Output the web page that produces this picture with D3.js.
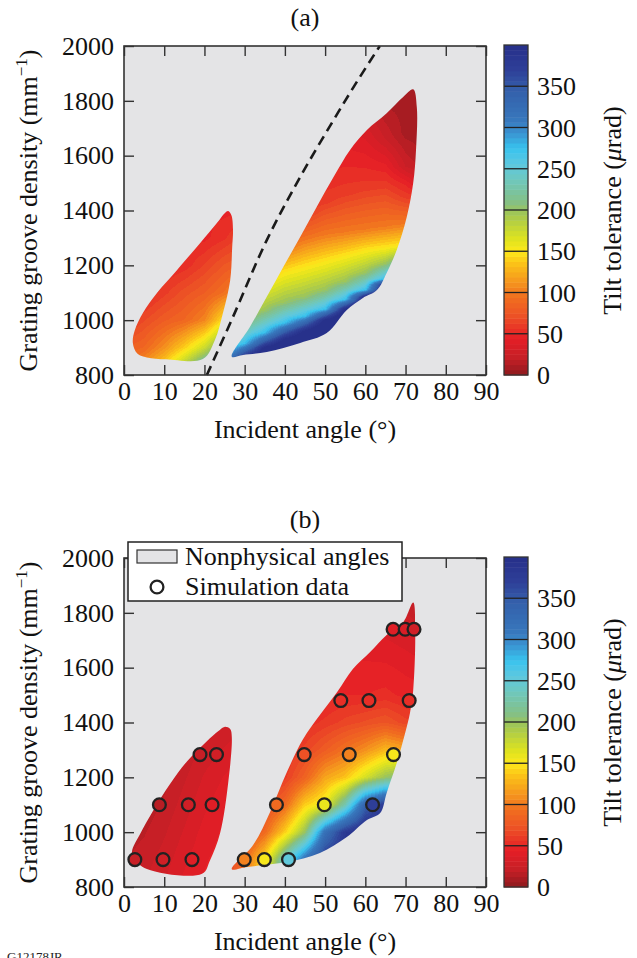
<!DOCTYPE html>
<html>
<head>
<meta charset="utf-8">
<script src="https://cdn.jsdelivr.net/npm/d3@7"></script>
<style>
  body { margin: 0; background: #fff; }
  svg text { font-family: "Liberation Serif", "Times New Roman", Times, serif; }
</style>
</head>
<body>
<svg id="fig" width="637" height="958"></svg>
<script>
// ticks
var angleTicks = [0, 10, 20, 30, 40, 50, 60, 70, 80, 90];
var densityTicks = [800, 1000, 1200, 1400, 1600, 1800, 2000];
var tolTicks = [0, 50, 100, 150, 200, 250, 300, 350];

// colour map (tilt tolerance, urad)
var cmapStops  = [0, 20, 45, 70, 95, 110, 135, 150, 165, 195, 210, 240, 255, 275, 295, 310, 345, 370, 400];
var cmapColors = ['#8e1a1e', '#c41f26', '#e61e26', '#ec4f26', '#f1701f', '#f4901e', '#fbc218', '#fde81a', '#dfe31f',
                  '#a3c751', '#85c085', '#6cc8c4', '#5ec8de', '#38c3ee', '#3a90cf', '#3777bc', '#3460ab', '#2e3f98', '#262f8a'];

// left lobes: tolerance grid
var leftAngles = [0, 5, 10, 15, 20, 25, 30];
var leftDensities = [800, 900, 1000, 1100, 1200, 1300, 1400];
var aLeftTol = [
  [95, 125, 160, 215, 270, 310, 340],
  [80, 88, 110, 140, 175, 225, 270],
  [55, 68, 80, 88, 105, 150, 180],
  [48, 48, 60, 72, 81, 95, 115],
  [48, 48, 48, 52, 63, 76, 82],
  [48, 48, 48, 48, 48, 55, 67],
  [48, 48, 48, 48, 48, 48, 48]
];
var bLeftTol = [
  [20, 25, 32, 40, 45, 48, 50],
  [18, 22, 28, 36, 43, 47, 50],
  [15, 18, 24, 32, 40, 45, 48],
  [13, 14, 20, 28, 36, 42, 45],
  [12, 12, 16, 24, 32, 38, 42],
  [12, 12, 13, 20, 27, 32, 36],
  [12, 12, 12, 16, 22, 26, 30]
];

// right lobe of (a): density where each tolerance level is reached, per angle column
var rightAngles = [25, 30, 35, 40, 45, 50, 55, 60, 65, 70, 75];
var aRightLevels = [480, 400, 330, 275, 200, 150, 100, 60, 48, 25, 10];
var aRightContours = [
  [720, 800, 845, 870, 960, 1070, 1195, 1320, 1450, 1900, 2000],
  [780, 860, 892, 915, 1000, 1105, 1215, 1340, 1470, 1900, 2000],
  [820, 900, 930, 955, 1035, 1140, 1230, 1350, 1480, 1900, 2000],
  [850, 930, 966, 990, 1065, 1175, 1260, 1360, 1500, 1900, 2000],
  [880, 960, 993, 1015, 1085, 1195, 1290, 1390, 1520, 1900, 2000],
  [920, 1000, 1024, 1040, 1110, 1215, 1310, 1430, 1560, 1880, 2000],
  [960, 1040, 1061, 1075, 1140, 1235, 1320, 1460, 1580, 1840, 2000],
  [1005, 1085, 1100, 1110, 1172, 1255, 1330, 1480, 1570, 1770, 1950],
  [1050, 1130, 1142, 1150, 1205, 1265, 1340, 1490, 1550, 1660, 1800],
  [1095, 1175, 1184, 1190, 1235, 1275, 1350, 1450, 1500, 1560, 1680],
  [1140, 1220, 1226, 1230, 1265, 1290, 1360, 1430, 1470, 1500, 1600]
];

// right lobe of (b): tolerance grid
var rightDensities = [800, 900, 1000, 1100, 1200, 1300, 1400, 1500, 1600, 1700, 1800, 1900];
var bRightTol = [
  [60, 100, 170, 260, 330, 390, 400, 400, 400, 400, 400],
  [60, 90, 145, 240, 320, 380, 390, 400, 400, 400, 400],
  [55, 65, 90, 140, 200, 320, 380, 400, 400, 400, 400],
  [50, 55, 65, 90, 140, 160, 230, 340, 380, 380, 380],
  [50, 50, 55, 60, 85, 120, 135, 170, 200, 220, 230],
  [50, 50, 50, 52, 65, 80, 95, 110, 130, 120, 125],
  [50, 50, 50, 50, 52, 58, 65, 70, 75, 65, 60],
  [48, 48, 48, 48, 48, 48, 50, 50, 52, 48, 45],
  [45, 45, 45, 45, 45, 45, 45, 45, 45, 42, 40],
  [42, 42, 42, 42, 42, 42, 42, 40, 38, 35, 30],
  [40, 40, 40, 40, 40, 40, 40, 35, 30, 25, 18],
  [38, 38, 38, 38, 38, 38, 38, 30, 22, 15, 10]
];

// physical regions (angle deg, density mm^-1)
var aLeftEdge = [[2.2, 917], [2.7, 964], [4.7, 1026], [8.2, 1099], [13.2, 1183], [18.9, 1281], [23.1, 1354], [25.1, 1391],
  [25.9, 1398], [26.7, 1383], [27.1, 1330], [26.9, 1267], [26.4, 1146], [24.6, 1026], [22.6, 928], [19.6, 858],
  [10.5, 857], [5.7, 864], [3.3, 878]];
var aRightEdge = [[26.8, 867], [31.3, 975], [35.5, 1085], [39.6, 1194], [43.8, 1303], [47.9, 1413], [52.1, 1522],
  [56.2, 1621], [60.4, 1694], [65.3, 1755], [69.4, 1814], [71.9, 1842], [72.8, 1777], [72.6, 1621], [71.9, 1500],
  [70.3, 1376], [67.8, 1256], [65.3, 1172], [62.9, 1110], [59.4, 1081], [55.4, 1037], [50.4, 953], [43.8, 917],
  [35.5, 884], [29.6, 873]];
var bLeftEdge = [[2.0, 931], [4.0, 993], [7.2, 1077], [11.4, 1175], [15.7, 1259], [20.6, 1332], [23.4, 1368],
  [25.0, 1384], [26.4, 1376], [26.8, 1347], [25.9, 1179], [23.9, 997], [21.4, 898], [19.4, 848], [5.7, 866], [2.3, 905]];
var bRightEdge = [[26.8, 865], [32.1, 953], [36.3, 1073], [40.5, 1219], [44.5, 1339], [48.7, 1427], [53.0, 1511],
  [56.9, 1595], [61.2, 1657], [65.3, 1719], [69.4, 1766], [71.9, 1838], [72.4, 1737], [71.9, 1518], [71.1, 1435],
  [69.9, 1362], [67.8, 1252], [65.3, 1143], [63.7, 1070], [60.4, 1044], [55.4, 982], [48.7, 924], [40.5, 891],
  [34.6, 880], [30.6, 873]];

// boundary curve in (a)
var dashAngle = [20.6, 27.1, 35.5, 43.8, 52.1, 58.0, 63.6];
var dashDensity = [800, 1012, 1292, 1522, 1730, 1872, 2000];

// simulation points in (b)
var simAngle = [2.7, 9.7, 16.9, 29.9, 34.9, 40.9, 8.8, 16.0, 21.9, 37.9, 49.8, 61.8, 18.9, 23.0, 44.8, 56.0, 67.0, 53.9, 60.9, 70.9, 66.9, 69.9, 72.1];
var simDensity = [900, 900, 900, 900, 900, 900, 1100, 1100, 1100, 1100, 1100, 1100, 1283, 1283, 1283, 1283, 1283, 1480, 1480, 1480, 1740, 1740, 1740];
var simTol = [20, 28, 38, 100, 150, 250, 15, 25, 38, 90, 160, 370, 20, 28, 72, 100, 150, 50, 50, 50, 38, 35, 30];

var svg = d3.select('#fig');
var defs = svg.append('defs');
var x = d3.scaleLinear().domain([0, 90]).range([124, 486]);
var color = d3.scaleLinear().domain(cmapStops).range(cmapColors).clamp(true);
var nLevels = 64;
var lut = d3.range(nLevels).map(function(i) { return d3.rgb(color((i + 0.5) * 400 / nLevels)); });
function level(v) { return Math.max(0, Math.min(nLevels - 1, Math.floor(v / 400 * nLevels))); }
function tolColor(v) { return lut[level(v)].toString(); }

function colIndex(angles, a) {
  var f = Math.max(0, Math.min(angles.length - 1, (a - angles[0]) / (angles[1] - angles[0])));
  var i = Math.min(Math.floor(f), angles.length - 2);
  return [i, f - i];
}

// bilinear lookup in a regular grid
function gridSampler(angles, dens, vals) {
  return function(a, d) {
    var c = colIndex(angles, a), r = colIndex(dens, d);
    var i = c[0], ta = c[1], j = r[0], td = r[1];
    var v0 = vals[j][i] * (1 - ta) + vals[j][i + 1] * ta;
    var v1 = vals[j + 1][i] * (1 - ta) + vals[j + 1][i + 1] * ta;
    return v0 * (1 - td) + v1 * td;
  };
}

// one piecewise scale per angle column, blended across columns
function contourSampler(angles, levels, contours) {
  var cols = contours.map(function(ds) { return d3.scaleLinear().domain(ds).range(levels).clamp(true); });
  return function(a, d) {
    var c = colIndex(angles, a);
    return cols[c[0]](d) * (1 - c[1]) + cols[c[0] + 1](d) * c[1];
  };
}

function fieldImage(y, sampler) {
  var x0 = x.range()[0], top = y.range()[1];
  var w = Math.round(x.range()[1] - x0), h = Math.round(y.range()[0] - top);
  var cv = document.createElement('canvas');
  cv.width = w; cv.height = h;
  var ctx = cv.getContext('2d');
  var img = ctx.createImageData(w, h);
  for (var py = 0; py < h; py++) {
    for (var px = 0; px < w; px++) {
      var c = lut[level(sampler(x.invert(x0 + px + 0.5), y.invert(top + py + 0.5)))];
      var k = (py * w + px) * 4;
      img.data[k] = c.r; img.data[k + 1] = c.g; img.data[k + 2] = c.b; img.data[k + 3] = 255;
    }
  }
  ctx.putImageData(img, 0, 0);
  return cv.toDataURL();
}

function drawPanel(p) {
  var y = d3.scaleLinear().domain([800, 2000]).range([p.bottom, p.top]);
  var g = svg.append('g');
  var x0 = x.range()[0], x1 = x.range()[1];
  var fs = 26;

  g.append('rect').attr('x', x0).attr('y', p.top).attr('width', x1 - x0).attr('height', p.bottom - p.top)
    .attr('fill', '#e4e4e6');

  var edgeLine = d3.line().x(function(d) { return x(d[0]); }).y(function(d) { return y(d[1]); })
    .curve(d3.curveCatmullRomClosed.alpha(0.5));

  p.regions.forEach(function(r, i) {
    var id = 'clip' + p.name + i;
    defs.append('clipPath').attr('id', id).append('path').attr('d', edgeLine(r.edge));
    g.append('image')
      .attr('x', x0).attr('y', p.top)
      .attr('width', x1 - x0).attr('height', p.bottom - p.top)
      .attr('preserveAspectRatio', 'none')
      .attr('href', fieldImage(y, r.sampler))
      .attr('clip-path', 'url(#' + id + ')');
  });

  if (p.dash) {
    var dl = d3.line().x(function(d, i) { return x(dashAngle[i]); }).y(function(d) { return y(d); })
      .curve(d3.curveCatmullRom);
    g.append('path').attr('d', dl(dashDensity)).attr('fill', 'none')
      .attr('stroke', '#1a1a1a').attr('stroke-width', 2.6).attr('stroke-dasharray', '10,6');
  }

  if (p.sims) {
    g.selectAll('circle.sim').data(simAngle).enter().append('circle')
      .attr('class', 'sim')
      .attr('cx', function(d) { return x(d); })
      .attr('cy', function(d, i) { return y(simDensity[i]); })
      .attr('r', 6.4)
      .attr('fill', function(d, i) { return tolColor(simTol[i]); })
      .attr('stroke', '#222').attr('stroke-width', 2.3);
  }

  // axes, ticks inward on all sides
  var axB = g.append('g').attr('transform', 'translate(0,' + p.bottom + ')')
    .call(d3.axisBottom(x).tickValues(angleTicks).tickSize(-10).tickSizeOuter(0).tickPadding(7).tickFormat(d3.format('d')));
  var axT = g.append('g').attr('transform', 'translate(0,' + p.top + ')')
    .call(d3.axisTop(x).tickValues(angleTicks).tickSize(-10).tickSizeOuter(0).tickFormat(''));
  var axL = g.append('g').attr('transform', 'translate(' + x0 + ',0)')
    .call(d3.axisLeft(y).tickValues(densityTicks).tickSize(-10).tickSizeOuter(0).tickPadding(10).tickFormat(d3.format('d')));
  var axR = g.append('g').attr('transform', 'translate(' + x1 + ',0)')
    .call(d3.axisRight(y).tickValues(densityTicks).tickSize(-10).tickSizeOuter(0).tickFormat(''));
  [axB, axT, axL, axR].forEach(function(a) {
    a.attr('font-family', null).attr('font-size', null);
    a.select('.domain').remove();
    a.selectAll('line').attr('stroke', '#333').attr('stroke-width', 1.4);
    a.selectAll('text').attr('font-size', fs).attr('fill', '#111');
  });
  g.append('rect').attr('x', x0).attr('y', p.top).attr('width', x1 - x0).attr('height', p.bottom - p.top)
    .attr('fill', 'none').attr('stroke', '#333').attr('stroke-width', 1.6);

  // colour bar
  var cb = { x: 504, w: 24 };
  var cy = d3.scaleLinear().domain([0, 400]).range([p.bottom, p.top - 1]);
  var step = 400 / nLevels;
  g.selectAll('rect.cb').data(d3.range(nLevels)).enter().append('rect')
    .attr('class', 'cb')
    .attr('x', cb.x).attr('width', cb.w)
    .attr('y', function(i) { return cy((i + 1) * step); })
    .attr('height', function(i) { return cy(i * step) - cy((i + 1) * step) + 0.5; })
    .attr('fill', function(i) { return lut[i].toString(); });
  g.selectAll('line.cbt').data(tolTicks.slice(1)).enter().append('line')
    .attr('x1', cb.x).attr('x2', cb.x + cb.w)
    .attr('y1', function(d) { return cy(d); }).attr('y2', function(d) { return cy(d); })
    .attr('stroke', '#222').attr('stroke-width', 1.3);
  g.append('rect').attr('x', cb.x).attr('y', cy(400)).attr('width', cb.w).attr('height', cy(0) - cy(400))
    .attr('fill', 'none').attr('stroke', '#333').attr('stroke-width', 1.3);
  g.selectAll('text.cbl').data(tolTicks).enter().append('text')
    .attr('x', 537).attr('y', function(d) { return cy(d) + 9; })
    .attr('font-size', fs).attr('fill', '#111')
    .text(function(d) { return d; });

  var mid = (p.top + p.bottom) / 2;
  var cl = g.append('text').attr('transform', 'translate(621,' + mid + ') rotate(-90)')
    .attr('text-anchor', 'middle').attr('font-size', fs).attr('fill', '#111');
  cl.append('tspan').text('Tilt tolerance (');
  cl.append('tspan').attr('font-style', 'italic').text('\u03bc');
  cl.append('tspan').text('rad)');

  var yl = g.append('text').attr('transform', 'translate(37,' + mid + ') rotate(-90)')
    .attr('text-anchor', 'middle').attr('font-size', fs).attr('fill', '#111');
  yl.append('tspan').text('Grating groove density (mm');
  yl.append('tspan').attr('font-size', 17).attr('dy', -10).text('\u22121');
  yl.append('tspan').attr('dy', 10).text(')');

  g.append('text').attr('x', (x0 + x1) / 2).attr('y', p.bottom + 63)
    .attr('text-anchor', 'middle').attr('font-size', fs).attr('fill', '#111')
    .text('Incident angle (\u00b0)');
  g.append('text').attr('x', (x0 + x1) / 2).attr('y', p.titleY)
    .attr('text-anchor', 'middle').attr('font-size', fs).attr('fill', '#111')
    .text(p.label);

  if (p.legend) {
    var lg = g.append('g');
    lg.append('rect').attr('x', 128).attr('y', 542).attr('width', 274).attr('height', 59)
      .attr('fill', '#fff').attr('stroke', '#222').attr('stroke-width', 1.5);
    lg.append('rect').attr('x', 137).attr('y', 550).attr('width', 40).attr('height', 13)
      .attr('fill', '#e4e4e6').attr('stroke', '#333').attr('stroke-width', 1.2);
    lg.append('circle').attr('cx', 157).attr('cy', 587).attr('r', 6.4)
      .attr('fill', 'none').attr('stroke', '#222').attr('stroke-width', 2.3);
    lg.append('text').attr('x', 185).attr('y', 565).attr('font-size', fs).attr('fill', '#111').text('Nonphysical angles');
    lg.append('text').attr('x', 185).attr('y', 595).attr('font-size', fs).attr('fill', '#111').text('Simulation data');
  }
}

drawPanel({ name: 'a', label: '(a)', top: 46, bottom: 375, titleY: 26, dash: true,
  regions: [
    { edge: aLeftEdge, sampler: gridSampler(leftAngles, leftDensities, aLeftTol) },
    { edge: aRightEdge, sampler: contourSampler(rightAngles, aRightLevels, aRightContours) }
  ] });
drawPanel({ name: 'b', label: '(b)', top: 558, bottom: 887, titleY: 528, sims: true, legend: true,
  regions: [
    { edge: bLeftEdge, sampler: gridSampler(leftAngles, leftDensities, bLeftTol) },
    { edge: bRightEdge, sampler: gridSampler(rightAngles, rightDensities, bRightTol) }
  ] });

svg.append('text').attr('x', 7).attr('y', 961).attr('font-size', 13).attr('fill', '#222').text('G12178JR');
</script>
</body>
</html>
